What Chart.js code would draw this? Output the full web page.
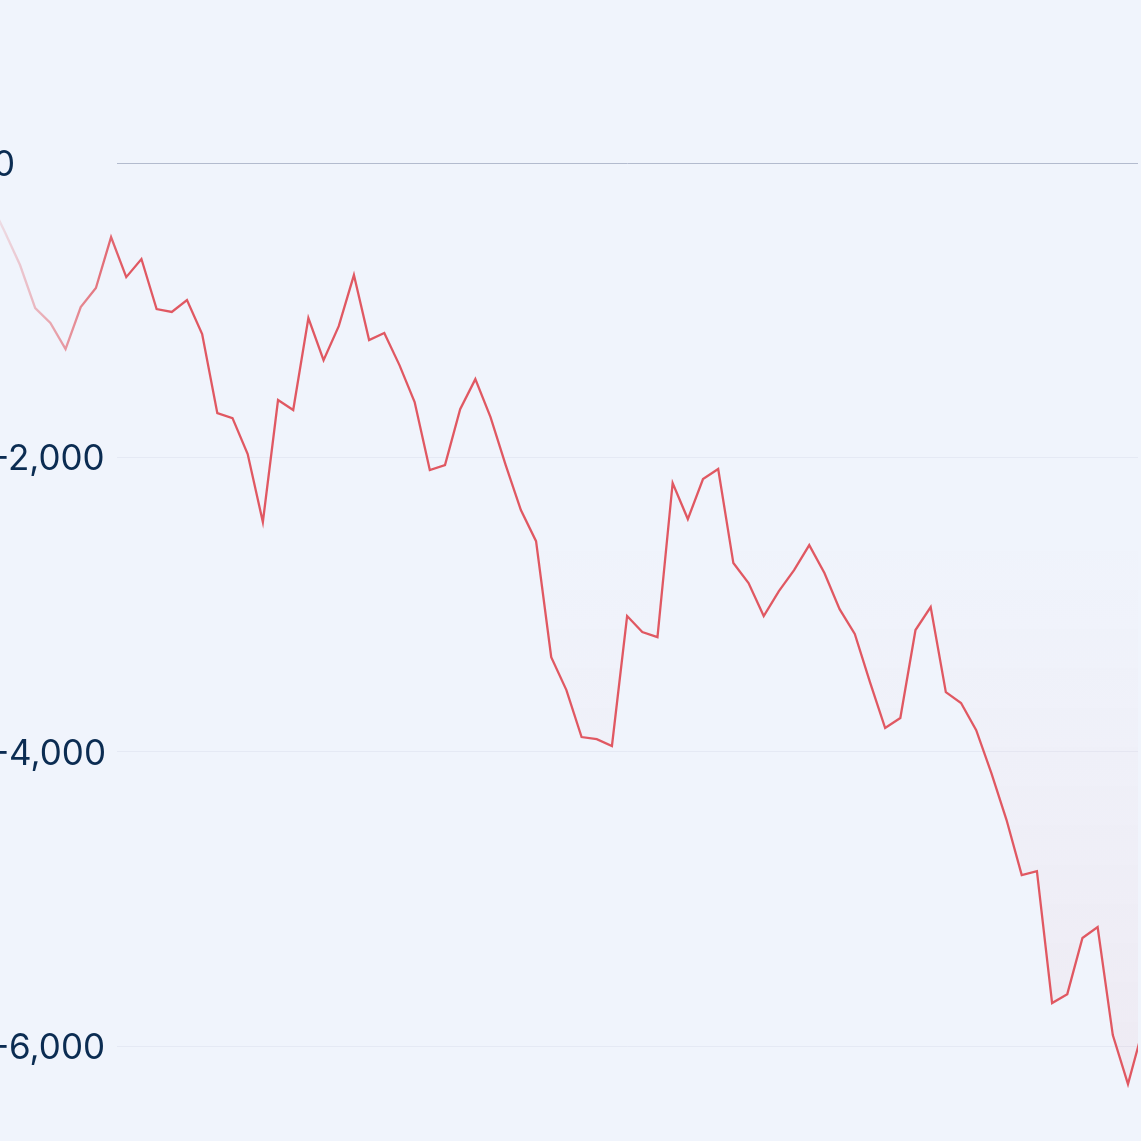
<!DOCTYPE html>
<html>
<head>
<meta charset="utf-8">
<script src="https://cdn.jsdelivr.net/npm/chart.js@4/dist/chart.umd.min.js"></script>
<style>
  html, body { margin: 0; padding: 0; background: #F0F4FC; overflow: hidden; }
  #wrap { position: absolute; left: -7px; top: 0; width: 1148px; height: 1141px; }
</style>
</head>
<body>
<div id="wrap"><canvas id="chart"></canvas></div>
<script>
// series values (one per period, oldest first)
const values = [
  -255, -469, -693, -985, -1087, -1264, -978, -849, -503, -775,
  -652, -992, -1012, -931, -1162, -1699, -1733, -1977, -2439, -1610,
  -1678, -1053, -1339, -1108, -761, -1203, -1155, -1373, -1624, -2086,
  -2052, -1672, -1468, -1726, -2052, -2358, -2569, -3357, -3581, -3900,
  -3914, -3961, -3078, -3187, -3221, -2174, -2419, -2147, -2079, -2718,
  -2854, -3078, -2908, -2766, -2596, -2786, -3031, -3200, -3527, -3839,
  -3771, -3173, -3017, -3595, -3669, -3853, -4145, -4464, -4838, -4811,
  -5708, -5647, -5266, -5191, -5925, -6258, -5878
];
const periods = values.map((v, i) => i);
const yTicks = [0, -2000, -4000, -6000];

// visible window of the chart
const xMin = 8.39, xMax = 75.66;
const yMin = -6645, yMax = 1108;

const RED = '224,88,98';

const lineGradient = (ctx) => {
  const { chart } = ctx;
  const area = chart.chartArea;
  if (!area) return `rgb(${RED})`;
  const g = chart.ctx.createLinearGradient(area.left - 140, 0, area.left + 8, 0);
  g.addColorStop(0, `rgba(${RED},0)`);
  g.addColorStop(1, `rgba(${RED},1)`);
  return g;
};

const fillGradient = (ctx) => {
  const { chart } = ctx;
  const area = chart.chartArea;
  if (!area) return 'rgba(0,0,0,0)';
  const y = chart.scales.y;
  const g = chart.ctx.createLinearGradient(0, y.getPixelForValue(-2500), 0, y.getPixelForValue(-6500));
  g.addColorStop(0, `rgba(${RED},0)`);
  g.addColorStop(1, `rgba(${RED},0.06)`);
  return g;
};

new Chart(document.getElementById('chart'), {
  type: 'line',
  data: {
    datasets: [{
      data: values.map((v, i) => ({ x: periods[i], y: v })),
      borderColor: lineGradient,
      backgroundColor: fillGradient,
      borderWidth: 2.3,
      pointRadius: 0,
      tension: 0,
      fill: 'origin',
      clip: { left: false, top: false, right: 0, bottom: false }
    }]
  },
  options: {
    responsive: true,
    maintainAspectRatio: false,
    animation: false,
    layout: { padding: { left: 0, right: 3, top: 0, bottom: 0 } },
    plugins: { legend: { display: false }, tooltip: { enabled: false } },
    scales: {
      x: {
        type: 'linear',
        display: false,
        bounds: 'data',
        afterDataLimits: (s) => { s.min = xMin; s.max = xMax; }
      },
      y: {
        min: yMin,
        max: yMax,
        afterFit: (s) => { s.width = 124; s.paddingTop = 0; s.paddingBottom = 0; },
        afterBuildTicks: (s) => { s.ticks = yTicks.map(v => ({ value: v })); },
        border: { display: false },
        grid: {
          drawTicks: false,
          tickLength: 0,
          color: (c) => c.tick && c.tick.value === 0 ? '#B3BBCE' : 'rgba(214,220,234,0.45)',
          lineWidth: 1
        },
        ticks: {
          crossAlign: 'far',
          padding: 0,
          labelOffset: 2.5,
          color: '#0B2C52',
          font: { family: 'Inter', size: 35 },
          callback: (v) => v.toLocaleString('en-US')
        }
      }
    }
  }
});
</script>
</body>
</html>
